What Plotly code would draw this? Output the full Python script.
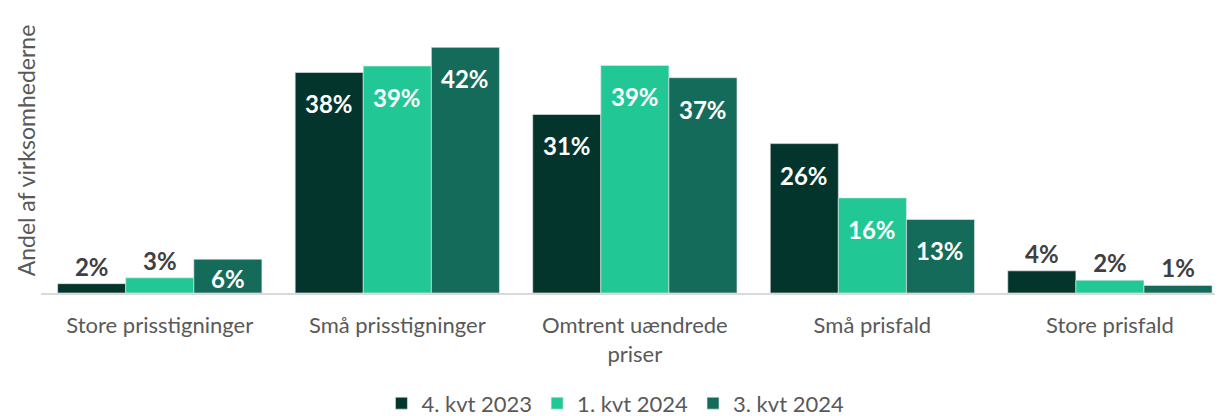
import plotly.graph_objects as go

categories = ["Store prisstigninger", "Små prisstigninger", "Omtrent uændrede<br>priser",
              "Små prisfald", "Store prisfald"]
series_names = ["4. kvt 2023", "1. kvt 2024", "3. kvt 2024"]
q4_2023 = [1.6, 37.8, 30.6, 25.6, 3.8]
q1_2024 = [2.6, 38.9, 39.0, 16.3, 2.2]
q3_2024 = [5.8, 42.1, 36.9, 12.6, 1.3]
colors = ["#03352c", "#21c896", "#146b5a"]

font = "Lato, 'Open Sans', sans-serif"
gray = "#595959"
bargap = 0.14
x_range = [-0.5, 4.476]
plot_w = 1182
bar_px = plot_w / (x_range[1] - x_range[0]) * (1 - bargap) / 3

fig = go.Figure()
for i, (name, vals, col) in enumerate(zip(series_names, [q4_2023, q1_2024, q3_2024], colors)):
    labels = ["%d%%" % round(v) for v in vals]
    # small values get their label above the bar
    fig.add_trace(go.Bar(
        x=categories, y=vals, name=name,
        marker=dict(color=col, line=dict(color="rgba(230,230,230,0.8)", width=0.8)),
        text=[t if v < 5 else "" for t, v in zip(labels, vals)],
        textposition="outside",
        outsidetextfont=dict(family=font, size=24, color="#404040", weight="bold"),
        constraintext="none",
        cliponaxis=False,
    ))
    # larger values: white label just inside the top of the bar
    for cat, v, t in zip(categories, vals, labels):
        if v >= 5:
            fig.add_annotation(x=cat, y=v, text="<b>%s</b>" % t, showarrow=False,
                               xanchor="center", yanchor="top",
                               xshift=(i - 1) * bar_px, yshift=-15 if v >= 10 else -3,
                               font=dict(family=font, size=24, color="white"))

# page body has an 8px margin, so the figure is 8px smaller than the window
fig.update_layout(
    width=1215, height=408,
    margin=dict(l=33, r=0, t=2, b=123, autoexpand=False),
    plot_bgcolor="white", paper_bgcolor="white",
    barmode="group", bargap=bargap, bargroupgap=0,
    font=dict(family=font, color=gray, size=22),
    legend=dict(orientation="h", x=0.486, xanchor="center", y=-0.39, yanchor="middle",
                font=dict(size=22, color=gray), traceorder="normal"),
    xaxis=dict(range=x_range, showline=True, linecolor="#d9d9d9", linewidth=1.5,
               ticks="", ticklabelstandoff=12, tickfont=dict(size=22, color=gray)),
    yaxis=dict(range=[0, 48.5], showgrid=False, zeroline=False, showticklabels=False),
)

fig.add_annotation(text="Andel af virksomhederne", textangle=-90, xref="paper", yref="paper",
                   x=-0.026, y=0.505, xanchor="left", yanchor="middle", showarrow=False,
                   font=dict(size=23, color=gray))

fig.write_html("out.html")
